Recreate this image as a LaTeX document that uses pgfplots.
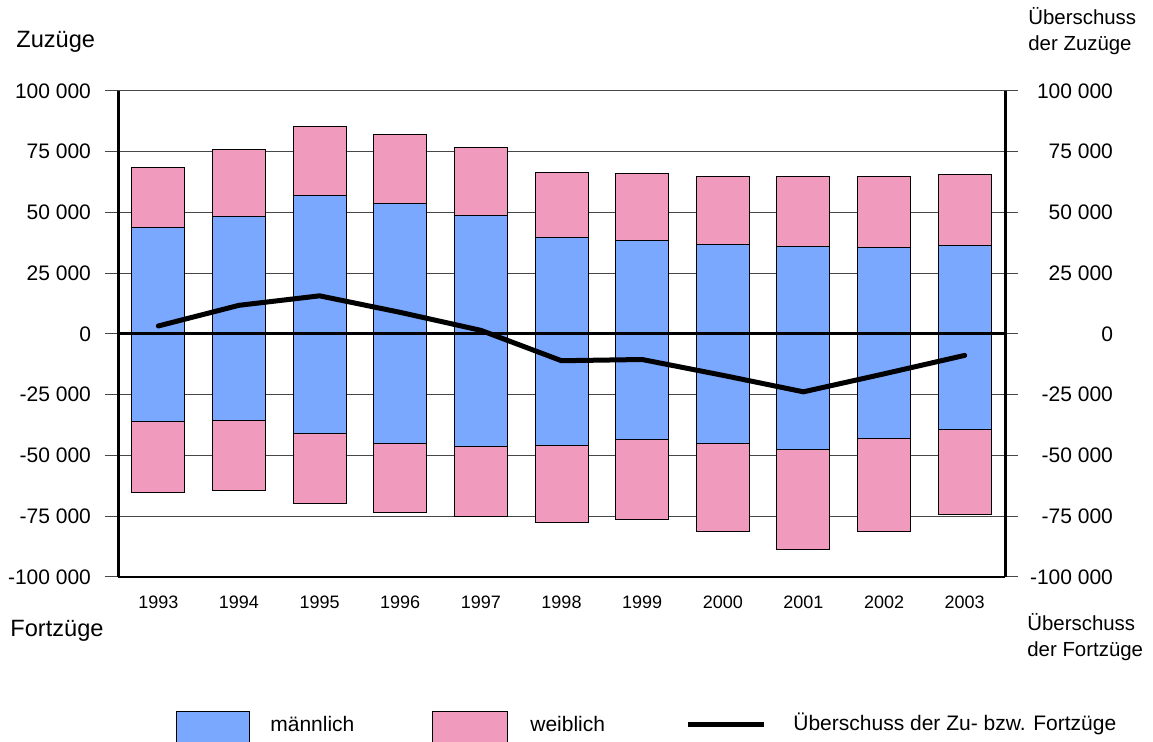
\documentclass[border=0pt]{standalone}
\usepackage{fontspec}
\setmainfont{Liberation Sans}
\usepackage{pgfplots}
\usepackage{pgfplotstable}
\pgfplotsset{compat=1.18}
\definecolor{mblue}{RGB}{122,168,255}
\definecolor{wpink}{RGB}{240,155,190}
\definecolor{gridgray}{RGB}{70,70,70}

\pgfplotstableread{
x mpos tpos mneg tneg net
0  43800 68700 -36100 -65400  3300
1  48500 76100 -35700 -64300  11800
2  57000 85500 -40900 -69800  15700
3  53900 82200 -45000 -73300  8900
4  48800 76600 -46500 -75300  1500
5  39900 66600 -45900 -77600 -11000
6  38500 66000 -43500 -76500 -10500
7  36800 64800 -45000 -81400 -17000
8  36200 64800 -47700 -88600 -23800
9  35800 64800 -43200 -81200 -16400
10 36600 65600 -39400 -74400  -8800
}\mydata

\begin{document}
\begin{tikzpicture}
\useasboundingbox (0,0) rectangle (576.5pt,-371pt);
\pgfplotsset{
  common/.style={
    at={(59pt,-288.5pt)}, anchor=south west, scale only axis,
    width=443.5pt, height=243pt,
    xmin=-0.5, xmax=10.5, ymin=-100000, ymax=100000,
    scaled y ticks=false,
    ytick={-100000,-75000,-50000,-25000,0,25000,50000,75000,100000},
    yticklabels={-100 000,-75 000,-50 000,-25 000,0,25 000,50 000,75 000,100 000},
    tick align=outside, major tick length=6.5pt,
    ytick style={gridgray, line width=0.5pt},
  }
}
\begin{axis}[common,
  axis y line*=left, axis x line*=bottom,
  y axis line style={-, line width=1.5pt, black},
  x axis line style={-, line width=0.6pt, black},
  ymajorgrids, grid style={gridgray, line width=0.5pt},
  xtick={0,1,2,3,4,5,6,7,8,9,10},
  xticklabels={1993,1994,1995,1996,1997,1998,1999,2000,2001,2002,2003},
  xtick style={draw=none},
  xticklabel style={font=\fontsize{9}{11}\selectfont, yshift=0.5pt},
  yticklabel style={font=\fontsize{10.5}{12}\selectfont, xshift=-3.5pt},
  ybar, bar width=26.5pt,
]
\addplot[fill=wpink, draw=black, line width=0.5pt, bar shift=0pt] table[x=x,y=tpos]{\mydata};
\addplot[fill=wpink, draw=black, line width=0.5pt, bar shift=0pt] table[x=x,y=tneg]{\mydata};
\addplot[fill=mblue, draw=black, line width=0.5pt, bar shift=0pt] table[x=x,y=mpos]{\mydata};
\addplot[fill=mblue, draw=black, line width=0.5pt, bar shift=0pt] table[x=x,y=mneg]{\mydata};
\addplot[sharp plot, black, line width=1.5pt, mark=none] coordinates {(-0.5,0) (10.5,0)};
\addplot[sharp plot, black, line width=2.5pt, line cap=round, line join=round, mark=none] table[x=x,y=net]{\mydata};
\end{axis}
\begin{axis}[common,
  axis y line*=right, axis x line=none,
  y axis line style={-, line width=1.5pt, black},
  yticklabel style={font=\fontsize{10.5}{12}\selectfont, anchor=east, xshift=51pt},
]
\end{axis}
% titles
\node[anchor=west, inner sep=0pt, font=\fontsize{11.8}{13}\selectfont] at (8pt,-21pt) {Zuzüge};
\node[anchor=west, inner sep=0pt, align=left, font=\fontsize{10.2}{13}\selectfont] at (514pt,-15.5pt) {Überschuss\\der Zuzüge};
\node[anchor=west, inner sep=0pt, font=\fontsize{11.8}{13}\selectfont] at (5pt,-315.5pt) {Fortzüge};
\node[anchor=west, inner sep=0pt, align=left, font=\fontsize{10.2}{13}\selectfont] at (513.5pt,-318.5pt) {Überschuss\\der Fortzüge};
% legend
\filldraw[fill=mblue, draw=black, line width=0.5pt] (88pt,-356pt) rectangle (124.5pt,-380pt);
\node[anchor=west, inner sep=0pt, font=\fontsize{10.5}{12}\selectfont] at (135pt,-362pt) {männlich};
\filldraw[fill=wpink, draw=black, line width=0.5pt] (216pt,-356pt) rectangle (253.5pt,-380pt);
\node[anchor=west, inner sep=0pt, font=\fontsize{10.5}{12}\selectfont] at (265pt,-362pt) {weiblich};
\draw[line width=2.5pt] (344pt,-362.5pt) -- (382pt,-362.5pt);
\node[anchor=west, inner sep=0pt, font=\fontsize{10.5}{12}\selectfont] at (396.5pt,-362pt) {Überschuss der Zu- bzw. Fortzüge};
\end{tikzpicture}
\end{document}
